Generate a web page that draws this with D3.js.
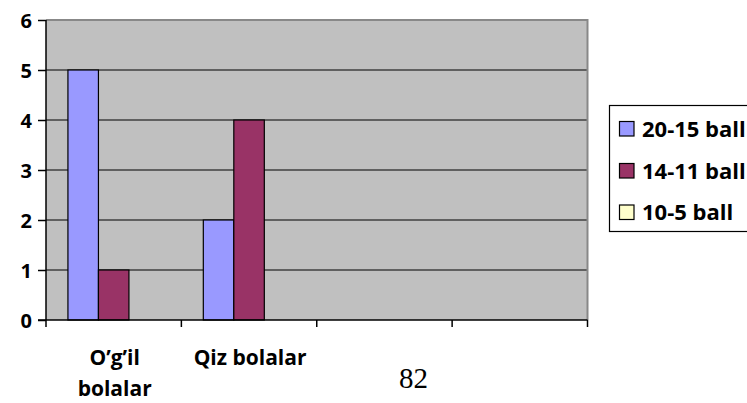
<!DOCTYPE html>
<html><head><meta charset="utf-8">
<script src="https://cdn.jsdelivr.net/npm/d3@7"></script>
<style>body{margin:0;background:#fff}svg{display:block}</style>
</head><body>
<script>
const categories = ["O’g’il bolalar", "Qiz bolalar", "", ""];
const categoryLines = [["O’g’il", "bolalar"], ["Qiz bolalar"], [], []];
const seriesNames = ["20-15 ball", "14-11 ball", "10-5 ball"];
const s1 = [5, 2, 0, 0];
const s2 = [1, 4, 0, 0];
const s3 = [0, 0, 0, 0];
const yTicks = [0, 1, 2, 3, 4, 5, 6];
const colors = ["#9999FF", "#993366", "#FFFFCC"];
const series = [s1, s2, s3];

const W = 747, H = 403;
const svg = d3.select("body").append("svg").attr("width", W).attr("height", H);
const L = 46, R = 587.5, T = 20, B = 320;
const font = "'Open Sans', Lato, sans-serif";

const x = d3.scaleBand().domain(d3.range(categories.length)).range([L, R]);
const y = d3.scaleLinear().domain([0, 6]).range([B, T]);
const bw = 30.5;
const xs = d3.scaleBand().domain(d3.range(series.length)).range([0, bw * 3]);

svg.append("rect").attr("x", L).attr("y", T).attr("width", R - L).attr("height", B - T).attr("fill", "#C0C0C0");
// gridlines
svg.append("g").selectAll("line").data(yTicks.filter(d => d > 0 && d < 6)).join("line")
  .attr("x1", L).attr("x2", R).attr("y1", d => y(d)).attr("y2", d => y(d))
  .attr("stroke", "#000").attr("stroke-width", 1.2);
// top/right border
svg.append("path").attr("d", `M${L},${T}H${R}V${B}`).attr("fill", "none").attr("stroke", "#888").attr("stroke-width", 2);

// bars
series.forEach((s, i) => {
  svg.append("g").selectAll("rect").data(s).join("rect")
    .attr("x", (d, j) => x(j) + x.bandwidth() / 2 - bw * 1.5 + xs(i))
    .attr("y", d => y(d)).attr("width", bw).attr("height", d => y(0) - y(d))
    .attr("fill", colors[i]).attr("stroke", "#000").attr("stroke-width", 1.2)
    .style("display", d => d > 0 ? null : "none");
});

// y axis
const ya = svg.append("g").attr("transform", `translate(${L},0)`)
  .call(d3.axisLeft(y).tickValues(yTicks).tickSize(8).tickPadding(6).tickFormat(d3.format("d")));
ya.select(".domain").attr("stroke", "#000").attr("stroke-width", 1.5).attr("d", `M0,${T}V${B}`);
ya.selectAll(".tick line").attr("stroke", "#000").attr("stroke-width", 1.5);
ya.selectAll("text").attr("font-family", font).attr("font-weight", "bold").attr("font-size", 20).attr("fill", "#000").attr("dy", "0.36em");

// x axis
const xTickPos = d3.range(categories.length + 1).map(i => L + i * x.step());
svg.append("line").attr("x1", L - 8).attr("x2", R).attr("y1", B).attr("y2", B).attr("stroke", "#000").attr("stroke-width", 1.5);
svg.append("g").selectAll("line").data(xTickPos).join("line")
  .attr("x1", d => d).attr("x2", d => d).attr("y1", B).attr("y2", B + 7)
  .attr("stroke", "#000").attr("stroke-width", 1.5);
const xl = svg.append("g").selectAll("text").data(categoryLines).join("text")
  .attr("x", (d, i) => x(i) + x.bandwidth() / 2 + 1).attr("y", 365)
  .attr("text-anchor", "middle").attr("font-family", font).attr("font-weight", "bold").attr("font-size", 21);
xl.selectAll("tspan").data(d => d).join("tspan")
  .attr("x", function () { return d3.select(this.parentNode).attr("x"); })
  .attr("dy", (d, k) => k === 0 ? 0 : 31).text(d => d);

// legend
const lg = svg.append("g");
lg.append("rect").attr("x", 609.5).attr("y", 105.5).attr("width", 160).attr("height", 126)
  .attr("fill", "#fff").attr("stroke", "#000").attr("stroke-width", 1.2);
const rowsY = [129, 171, 212.5];
seriesNames.forEach((n, i) => {
  lg.append("rect").attr("x", 619.5).attr("y", rowsY[i] - 7.5).attr("width", 14.5).attr("height", 14.5)
    .attr("fill", colors[i]).attr("stroke", "#000").attr("stroke-width", 1.2);
  lg.append("text").attr("x", 642).attr("y", rowsY[i]).attr("dy", "0.36em")
    .attr("font-family", font).attr("font-weight", "bold").attr("font-size", 22).text(n);
});

// page number
svg.append("text").attr("x", 413.5).attr("y", 388).attr("text-anchor", "middle")
  .attr("font-family", "'Liberation Serif', 'Times New Roman', serif").attr("font-size", 29).text("82");
</script>
</body></html>
